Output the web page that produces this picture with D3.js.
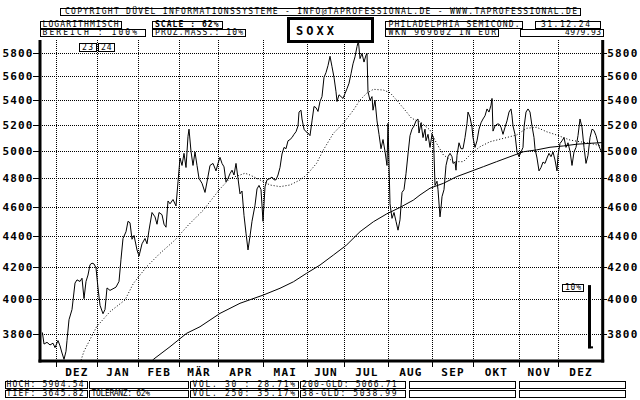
<!DOCTYPE html>
<html><head><meta charset="utf-8">
<script src="https://cdn.jsdelivr.net/npm/d3@7"></script>
<style>body{margin:0;background:#fff}svg{display:block}</style>
</head><body><svg id="c" width="640" height="400"></svg>
<script>
// ---------- DATA ----------
const monthLabels = ["DEZ","JAN","FEB","MÄR","APR","MAI","JUN","JUL","AUG","SEP","OKT","NOV","DEZ"];
const monthStarts = [8, 28.35, 49.15, 69.5, 89, 111.35, 133.35, 152.15, 174.15, 196.15, 216.35, 239.5, 259.15];
const dayEnd = 281.35;
const yTicks = [3800,4000,4200,4400,4600,4800,5000,5200,5400,5600,5800];
const highValue = 5904.54, lowValue = 3645.82;

const price = [[1.2,3806],[2,3740],[3.5,3750],[5,3735],[6.5,3745],[7.5,3720],[9,3760],[10,3730],[11,3690],[12,3655],[13,3700],[13.5,3760],[14.5,3880],[16,3940],[17.5,4100],[18.5,4120],[20,4110],[21,4130],[22,4005],[23,4110],[24,4150],[25,4215],[26,4225],[27,4220],[28,4195],[29,4070],[30,3965],[31.5,3915],[32.5,3940],[33.5,4070],[35,4055],[36.5,4065],[38,4075],[39.5,4110],[40.5,4250],[41.5,4385],[43,4430],[44,4500],[45,4490],[46,4380],[47,4405],[48.5,4310],[49.5,4270],[51,4350],[52.5,4385],[53.5,4350],[54.5,4440],[56,4560],[57.5,4530],[58.5,4480],[59.5,4560],[61,4545],[62,4480],[63,4460],[64,4640],[65,4620],[66.5,4650],[68,4605],[69,4775],[70,4950],[71,4895],[72,4985],[73,4880],[74,5115],[74.5,5170],[75.5,5000],[76.5,4895],[77.5,4995],[78.5,4895],[79.5,4800],[81,4765],[82.5,4700],[83.5,4775],[85,4895],[86.5,4910],[88,4855],[89,4910],[90,4955],[91,4910],[92,4885],[93,4775],[94,4800],[95,4835],[96,4860],[97,4825],[98,4910],[99,4800],[100,4690],[101,4710],[102,4540],[103,4420],[104,4310],[105,4400],[106,4500],[107.5,4610],[108.5,4725],[109.5,4750],[110.5,4720],[111.5,4500],[112.5,4740],[113.5,4790],[115,4800],[116,4810],[117,4790],[118,4790],[119,4825],[120,4880],[121,4980],[122,5030],[123,5020],[124,5080],[125,5090],[126,5105],[127,5130],[128,5150],[129,5195],[129.5,5305],[130.5,5320],[131,5250],[132,5170],[133,5150],[134,5140],[135,5120],[136,5235],[137,5350],[138,5340],[139,5310],[140,5390],[141,5430],[142,5590],[143,5630],[144,5690],[145,5770],[146,5680],[147,5590],[148,5470],[148.5,5390],[149.5,5445],[150.5,5430],[151.5,5415],[152.5,5455],[153.5,5495],[154.5,5540],[155.5,5620],[156.5,5705],[157.5,5765],[158.5,5855],[159.2,5904],[160,5750],[161,5795],[162,5720],[163,5780],[163.5,5795],[164,5470],[165,5400],[166,5430],[166.5,5320],[167.5,5400],[168.5,5235],[169.5,5130],[170.5,5020],[171.5,5090],[172.5,5000],[173.5,4895],[174,5215],[175,4620],[176,4520],[177,4560],[178,4500],[179,4440],[180,4510],[181,4700],[182,4720],[183,4835],[184,4980],[185,5120],[186,5170],[187,5195],[188,5235],[189,5250],[189.5,5140],[190.5,5220],[191.5,5105],[192.5,5170],[193,5080],[194,5130],[195,5030],[196,5130],[196.75,5100],[197.5,4750],[198.5,4780],[199,4720],[200,4530],[200.5,4590],[201,4670],[202,4720],[203,4895],[204,4960],[205,4985],[206,4960],[206.5,4910],[207.5,4920],[208,4860],[208.5,4970],[209.5,5065],[210.5,5020],[211.5,5020],[212.5,5105],[213.5,5215],[214,5305],[215,5265],[216,5185],[216.5,5105],[217.5,5030],[218.5,5080],[219.5,5170],[220.5,5220],[221.5,5250],[222.5,5275],[223.5,5330],[224.5,5305],[225.5,5360],[226,5415],[226.5,5155],[227.5,5195],[228.5,5210],[229.5,5210],[230.5,5185],[231.5,5130],[232.5,5185],[233.5,5235],[234.5,5305],[235.5,5330],[236,5275],[236.5,5195],[237.5,5130],[238.5,4995],[239.5,4960],[240.5,4995],[241.5,5030],[242,5185],[243,5305],[244,5330],[245,5305],[246,5195],[247,5105],[247.5,5020],[248.5,4950],[249.5,4855],[250.5,4880],[251.5,4920],[252.5,4910],[253.5,4950],[254.5,4985],[255.5,4960],[256.5,4995],[257.5,4935],[258.5,4855],[259,4970],[260,5060],[261,5080],[262,5105],[263,5030],[264,5065],[265,5000],[266,4895],[267,4995],[268,5030],[269,5120],[270,5250],[271,5185],[272,5030],[273,4910],[274,4970],[275,5105],[276,5170],[277,5160],[278,5120],[279,5060],[280,5020],[281.3,4979.93]];

const ma38 = [[20.5,3650],[22,3700],[28.3,3839],[35,3927],[42.5,3997],[46.7,4098],[53.3,4202],[60,4288],[67.5,4375],[74.2,4475],[81.7,4577],[90,4725],[95,4801],[100,4825],[102.5,4838],[105,4825],[110,4789],[115,4753],[120,4741],[125,4753],[130,4789],[133.3,4825],[138.3,4911],[141.7,5011],[146.7,5138],[151.7,5216],[156.7,5321],[160,5402],[163.3,5457],[166.7,5490],[171.7,5484],[175,5462],[178.3,5402],[182.5,5321],[185.8,5255],[190,5228],[195,5164],[198.3,5061],[201.7,4973],[206.7,4923],[211.7,4923],[215.8,4985],[220,5035],[225,5073],[231.7,5099],[238.3,5125],[243.3,5177],[248.3,5185],[253.3,5150],[258.3,5125],[265,5086],[270,5073],[275,5061],[281.3,5038.99]];

const ma200 = [[56,3646],[56.7,3655],[65,3725],[73.3,3801],[80,3839],[90,3917],[100,3977],[111.7,4027],[120,4068],[126.7,4108],[133.3,4161],[140,4213],[146.7,4277],[153.3,4342],[160,4430],[166.7,4497],[173.3,4550],[180,4595],[186.7,4646],[190,4682],[195,4730],[201.7,4765],[208.3,4813],[215,4849],[221.7,4886],[228.3,4923],[235,4960],[241.7,4997],[248.3,5011],[255,5031],[261.7,5041],[268.3,5054],[275,5061],[281.3,5066.71]];

const headerLines = ["COPYRIGHT  DÜVEL  INFORMATIONSSYSTEME - INFO@TAPROFESSIONAL.DE - WWW.TAPROFESSIONAL.DE"];
const infoLeft = ["LOGARITHMISCH", "BEREICH :   100%"];
const infoScale = ["SCALE : 62%", "PROZ.MASS.:  10%"];
const symbolName = "SOXX";
const infoRight = ["PHILADELPHIA SEMICOND.", "WKN 969602   IN EUR"];
const dateText = "31.12.24", lastText = "4979.93";
const yearTags = ["23","24"];
const pctTag = "10%", pctSpan = 0.10;
const footerRow1 = ["HOCH: 5904.54", "", "VOL. 30 : 28.71%", "200-GLD: 5066.71", "", ""];
const footerRow2 = ["TIEF: 3645.82", "TOLERANZ: 62%", "VOL. 250: 35.17%", "38-GLD: 5038.99", "", ""];

// ---------- DRAW ----------
const svg = d3.select("#c");
svg.append("rect").attr("width",640).attr("height",400).attr("fill","#fff");
const L = 40, R = 602.7, T = 40, B = 361;
const x = d3.scaleLinear().domain([0, dayEnd]).range([L, R]);
const y = d3.scaleLog().domain([lowValue, highValue]).range([B, 41]);
const MONO = "'DejaVu Sans Mono', monospace";

// grid
const grid = svg.append("g").attr("stroke","#000").attr("stroke-width",1)
  .attr("stroke-dasharray","1,1").attr("shape-rendering","crispEdges");
grid.selectAll("line.h").data(yTicks).join("line").attr("class","h")
  .attr("x1",L).attr("x2",R).attr("y1",d=>Math.round(y(d))+0.5).attr("y2",d=>Math.round(y(d))+0.5);
grid.selectAll("line.v").data(monthStarts).join("line").attr("class","v")
  .attr("y1",T).attr("y2",B).attr("x1",d=>Math.round(x(d))+0.5).attr("x2",d=>Math.round(x(d))+0.5);

// lines
svg.append("clipPath").attr("id","pc").append("rect").attr("x",L).attr("y",T).attr("width",R-L).attr("height",B-T);
const line = d3.line().x(d=>x(d[0])).y(d=>y(d[1]));
const lg = svg.append("g").attr("clip-path","url(#pc)").attr("fill","none").attr("stroke","#000");
lg.append("path").datum(ma200).attr("d",line).attr("stroke-width",1);
lg.append("path").datum(ma38).attr("d",line).attr("stroke-width",1).attr("stroke-dasharray","1,2");
lg.append("path").datum(price).attr("d",line).attr("stroke-width",1).attr("stroke-linejoin","miter");

// axes
const axL = svg.append("g").attr("transform",`translate(${L},0)`)
  .call(d3.axisLeft(y).tickValues(yTicks).tickSize(7).tickPadding(0.5).tickFormat(d3.format("d")));
const axR = svg.append("g").attr("transform",`translate(${R},0)`)
  .call(d3.axisRight(y).tickValues(yTicks).tickSize(4).tickPadding(0.5).tickFormat(d3.format("d")));
const axB = svg.append("g").attr("transform",`translate(0,${B})`)
  .call(d3.axisBottom(x).tickValues(monthStarts).tickSize(6).tickFormat(""));
[axL,axR,axB].forEach(a=>{
  a.select(".domain").remove();
  a.selectAll("line").attr("stroke","#000").attr("shape-rendering","crispEdges");
  a.selectAll("text").attr("font-family",MONO).attr("font-size",11).attr("font-weight","bold")
   .attr("letter-spacing",1.2).attr("fill","#000");
});
axL.selectAll("text").attr("dx",1.2);
// month labels
const mids = monthStarts.map((s,i)=> (s + (i+1<monthStarts.length ? monthStarts[i+1] : dayEnd))/2);
svg.append("g").selectAll("text").data(monthLabels).join("text")
  .attr("x",(d,i)=>x(mids[i])+0.6).attr("y",375.5).attr("text-anchor","middle")
  .attr("font-family",MONO).attr("font-size",11).attr("font-weight","bold").attr("letter-spacing",1.2)
  .text(d=>d);

// thick frame
const fr = svg.append("g").attr("stroke","#000").attr("stroke-width",3);
fr.append("line").attr("x1",L).attr("x2",L).attr("y1",T).attr("y2",B+1.5);
fr.append("line").attr("x1",R).attr("x2",R).attr("y1",T).attr("y2",B+1.5);
fr.append("line").attr("x1",L-1.5).attr("x2",R+1.5).attr("y1",B).attr("y2",B);

// boxes & texts
function box(x1,y1,x2,y2,sw){
  svg.append("rect").attr("shape-rendering","crispEdges")
    .attr("x",Math.round(x1)+0.5).attr("y",Math.round(y1)+0.5)
    .attr("width",Math.round(x2)-Math.round(x1)).attr("height",Math.round(y2)-Math.round(y1))
    .attr("fill","#fff").attr("stroke","#000").attr("stroke-width",sw||1);
}
function txt(s,x1,x2,base,opt){
  opt = opt||{};
  if(!s) return;
  svg.append("text").attr("x",x1).attr("y",base)
    .attr("font-family",MONO).attr("font-size",opt.size||8).attr("font-weight",opt.bold?"bold":"normal")
    .attr("textLength",x2-x1).attr("lengthAdjust","spacing").attr("fill","#000").text(s);
}
// header
box(60,8,580,15); txt(headerLines[0],65,577,14.3);
box(40,21,121,28); txt(infoLeft[0],42.5,118.5,27.3);
box(40,29,145,36); txt(infoLeft[1],42.5,137,35.3);
box(152,21,222,28); txt(infoScale[0],155,218.5,27.3,{bold:true});
box(152,29,245,36); txt(infoScale[1],155,243,35.3);
box(288,18,372,41,2.5); txt(symbolName,296,334,34.5,{bold:true,size:12});
box(385,21,522,28); txt(infoRight[0],388.5,519.5,27.3);
box(385,29,498,36); txt(infoRight[1],388.5,496,35.3);
box(535,21,600,28); txt(dateText,541,590,27.3);
box(520,29,603,36); txt(lastText,565,601,35.3);
// year tags
box(79,43,96,51); txt(yearTags[0],82,93,50.2);
box(98,43,114,51); txt(yearTags[1],101,111.5,50.2);
// percent scale
const pBase = 3716;
box(562,284,583,291); txt(pctTag,565,581,290.3);
svg.append("rect").attr("x",588).attr("y",y(pBase*(1+pctSpan))).attr("width",3)
  .attr("height",y(pBase)-y(pBase*(1+pctSpan))).attr("fill","#000");
svg.append("rect").attr("x",588).attr("y",y(pBase)-2).attr("width",5).attr("height",2).attr("fill","#000");
// footer
const fx = [[5,87],[89,188],[190,298],[300,405],[409,515],[519,625]];
const fspan = [[6.5,83.5],[91.5,150],[192.5,295],[302,396.5]];
fx.forEach((p,i)=>{
  box(p[0],381,p[1],388); box(p[0],390,p[1],397);
  if(fspan[i]){
    txt(footerRow1[i],fspan[i][0],fspan[i][1],387.3);
    txt(footerRow2[i],fspan[i][0],fspan[i][1],396.3);
  }
});
</script></body></html>
